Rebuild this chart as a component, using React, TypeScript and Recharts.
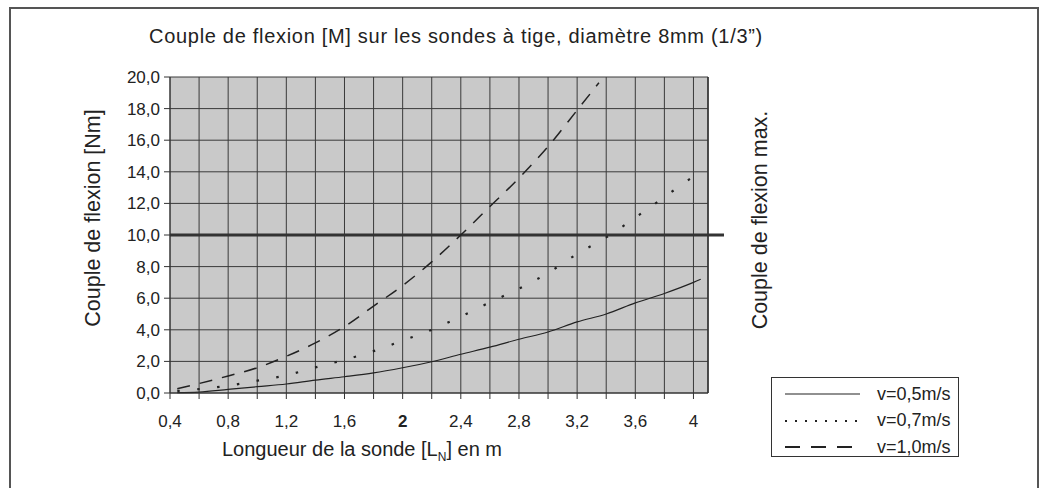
import {CartesianGrid, Line, LineChart, ReferenceLine, XAxis, YAxis} from 'recharts';

// probe length [m] -> bending moment [Nm]
const lengthsSlow = [0.45, 0.6, 0.8, 1.0, 1.2, 1.4, 1.6, 1.8, 2.0, 2.2, 2.4, 2.6, 2.8, 3.0, 3.2, 3.4, 3.6, 3.8, 4.0, 4.05];
const momentSlow = [0.02, 0.06, 0.23, 0.4, 0.57, 0.82, 1.03, 1.27, 1.6, 1.98, 2.45, 2.9, 3.4, 3.86, 4.5, 5.0, 5.7, 6.3, 7.0, 7.2];

const lengthsMid = [0.45, 0.6, 0.8, 1.0, 1.2, 1.4, 1.6, 1.8, 2.0, 2.2, 2.4, 2.6, 2.8, 3.0, 3.2, 3.4, 3.6, 3.8, 4.0, 4.05];
const momentMid = [0.13, 0.25, 0.46, 0.78, 1.12, 1.62, 2.1, 2.65, 3.32, 4.0, 4.84, 5.74, 6.6, 7.6, 8.8, 9.85, 11.1, 12.4, 13.7, 14.0];

const lengthsFast = [0.45, 0.6, 0.8, 1.0, 1.2, 1.4, 1.6, 1.8, 2.0, 2.2, 2.4, 2.6, 2.8, 3.0, 3.2, 3.35];
const momentFast = [0.27, 0.6, 1.08, 1.6, 2.32, 3.17, 4.2, 5.5, 6.8, 8.3, 10.0, 11.8, 13.6, 15.6, 17.9, 19.64];

const xTicks = [0.4, 0.6, 0.8, 1.0, 1.2, 1.4, 1.6, 1.8, 2.0, 2.2, 2.4, 2.6, 2.8, 3.0, 3.2, 3.4, 3.6, 3.8, 4.0];
const xTickLabels = ['0,4', '', '0,8', '', '1,2', '', '1,6', '', '2', '', '2,4', '', '2,8', '', '3,2', '', '3,6', '', '4'];
const yTicks = [0, 2, 4, 6, 8, 10, 12, 14, 16, 18, 20];

const X_MIN = 0.4;
const X_MAX = 4.1;
const MAX_MOMENT = 10;

const legendItems = ['v=0,5m/s', 'v=0,7m/s', 'v=1,0m/s'];

const FONT = '"Liberation Sans", Arial, sans-serif';
const INK = '#222';

const toPoints = (xs: number[], ys: number[]) => xs.map((x, i) => ({x, y: ys[i]}));

const LengthTick = (props: any) => {
	const {x, y, index} = props;
	const label = xTickLabels[index];
	if (!label) return null;
	return (
		<text
			x={x}
			y={y}
			dy="0.71em"
			textAnchor="middle"
			fontSize={17}
			fontFamily={FONT}
			fontWeight={label === '2' ? 'bold' : 'normal'}
			fill={INK}
		>
			{label}
		</text>
	);
};

const legendDash = ['none', '2 8', '15 11'];

function LegendBox() {
	return (
		<div
			style={{
				position: 'absolute',
				left: 771,
				top: 377,
				width: 186,
				height: 78,
				border: '1px solid #333',
				background: '#fff',
				fontFamily: FONT,
				fontSize: 18,
				color: INK,
			}}
		>
			{legendItems.map((name, i) => (
				<div key={name} style={{position: 'absolute', left: 0, top: 4 + i * 26.5, height: 24, display: 'flex', alignItems: 'center'}}>
					<svg width={100} height={24}>
						<line
							x1={13}
							x2={88}
							y1={12}
							y2={12}
							stroke={INK}
							strokeWidth={i === 0 ? 1.2 : 1.8}
							strokeDasharray={legendDash[i]}
						/>
					</svg>
					<span style={{marginLeft: 5}}>{name}</span>
				</div>
			))}
		</div>
	);
}

export default function App() {
	return (
		<div style={{position: 'absolute', left: 0, top: 0, width: 1043, height: 488, background: '#fff', overflow: 'hidden'}}>
			<div
				style={{
					position: 'absolute',
					left: 9,
					top: 7,
					width: 1026,
					height: 520,
					border: '2px solid #555',
				}}
			/>
			<div
				style={{
					position: 'absolute',
					left: 0,
					width: 912,
					top: 25,
					textAlign: 'center',
					fontFamily: FONT,
					fontSize: 20,
					letterSpacing: 0.7,
					color: INK,
				}}
			>
				Couple de flexion [M] sur les sondes à tige, diamètre 8mm (1/3”)
			</div>

			<LineChart
				width={1043}
				height={488}
				margin={{top: 77, left: 110, right: 335, bottom: 65}}
				style={{position: 'absolute', left: 0, top: 0}}
			>
				<CartesianGrid stroke="#3a3a3a" strokeWidth={1} fill="#c9c9c9" fillOpacity={1} />
				<XAxis
					type="number"
					dataKey="x"
					domain={[X_MIN, X_MAX]}
					ticks={xTicks}
					interval={0}
					allowDataOverflow
					height={30}
					tickSize={6}
					tickMargin={16}
					tick={<LengthTick />}
					axisLine={{stroke: '#333'}}
					tickLine={{stroke: '#333'}}
				/>
				<YAxis
					type="number"
					domain={[0, 20]}
					ticks={yTicks}
					interval={0}
					width={60}
					tickSize={6}
					tickMargin={4}
					tickFormatter={(v: number) => v.toFixed(1).replace('.', ',')}
					tick={{fontSize: 17, fill: INK, fontFamily: FONT}}
					axisLine={{stroke: '#333'}}
					tickLine={{stroke: '#333'}}
				/>
				<ReferenceLine x={X_MAX} stroke="#333" strokeWidth={1.5} />
				<ReferenceLine
					segment={[
						{x: X_MIN, y: MAX_MOMENT},
						{x: 4.21, y: MAX_MOMENT},
					]}
					ifOverflow="visible"
					stroke="#333"
					strokeWidth={3}
				/>
				<Line
					data={toPoints(lengthsSlow, momentSlow)}
					dataKey="y"
					type="monotone"
					stroke={INK}
					strokeWidth={1.2}
					dot={false}
					isAnimationActive={false}
				/>
				<Line
					data={toPoints(lengthsMid, momentMid)}
					dataKey="y"
					type="monotone"
					stroke={INK}
					strokeWidth={2.2}
					strokeDasharray="2.5 17.5"
					dot={false}
					isAnimationActive={false}
				/>
				<Line
					data={toPoints(lengthsFast, momentFast)}
					dataKey="y"
					type="monotone"
					stroke={INK}
					strokeWidth={1.5}
					strokeDasharray="13 10"
					dot={false}
					isAnimationActive={false}
				/>
			</LineChart>

			<div
				style={{
					position: 'absolute',
					left: 93,
					top: 218,
					transform: 'translate(-50%, -50%) rotate(-90deg)',
					whiteSpace: 'nowrap',
					fontFamily: FONT,
					fontSize: 21.5,
					color: INK,
				}}
			>
				Couple de flexion [Nm]
			</div>
			<div
				style={{
					position: 'absolute',
					left: 760,
					top: 220,
					transform: 'translate(-50%, -50%) rotate(-90deg)',
					whiteSpace: 'nowrap',
					fontFamily: FONT,
					fontSize: 21.5,
					color: INK,
				}}
			>
				Couple de flexion max.
			</div>
			<div
				style={{
					position: 'absolute',
					left: 222,
					top: 438,
					whiteSpace: 'nowrap',
					fontFamily: FONT,
					fontSize: 20,
					color: INK,
				}}
			>
				Longueur de la sonde [L<sub style={{fontSize: 12}}>N</sub>] en m
			</div>
			<LegendBox />
		</div>
	);
}
